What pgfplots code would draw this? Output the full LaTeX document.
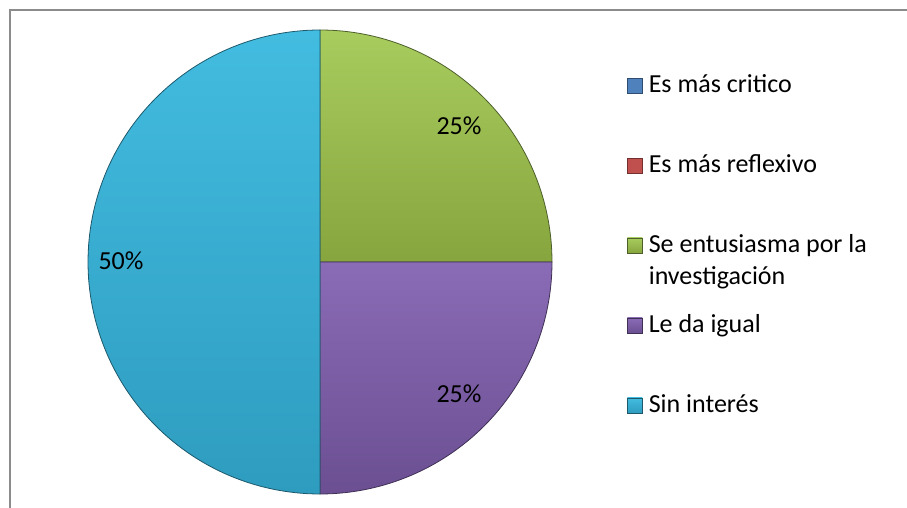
\documentclass[border=0pt]{standalone}
\usepackage{pgfplots}
\pgfplotsset{compat=1.18}
\usepackage{fontspec}
\setmainfont{Carlito}
\definecolor{cblue}{HTML}{4F81BD}
\definecolor{cred}{HTML}{C0504D}
\definecolor{cgreen}{HTML}{9BBE55}
\definecolor{cgreenT}{HTML}{A8CC5E}
\definecolor{cgreenB}{HTML}{87A53E}
\definecolor{cpurple}{HTML}{7E5FA8}
\definecolor{cpurpleT}{HTML}{8A6BB6}
\definecolor{cpurpleB}{HTML}{6B4F92}
\definecolor{ccyan}{HTML}{3AB0D6}
\definecolor{ccyanT}{HTML}{42BCE0}
\definecolor{ccyanB}{HTML}{2E9CBF}
\newcommand\f{\fontsize{26bp}{32bp}\selectfont}
% one pie slice: #1 = cumulative share before it (%), #2 = its share (%), #3 = style
\newcommand\pieslice[3]{%
  \pgfmathsetmacro\angA{90-3.6*#1}%
  \pgfmathsetmacro\angB{90-3.6*(#1+#2)}%
  \edef\doslice{\noexpand\addplot[#3, domain=\angB:\angA, samples=120]
    ({320+232*cos(x)},{246+232*sin(x)}) -- (axis cs:320,246) -- cycle;}%
  \doslice}
\begin{document}
\begin{tikzpicture}
\useasboundingbox (0,0) rectangle (907bp,508bp);
\begin{axis}[at={(0,0)}, anchor=south west,
  width=907bp, height=508bp, scale only axis,
  xmin=0, xmax=907, ymin=0, ymax=508,
  hide axis, clip=false,
  legend image code/.code={\draw[#1] (0bp,0bp) rectangle (15bp,15bp);},
  legend style={draw=none, fill=none, inner sep=0pt, outer sep=0pt,
    at={(axis cs:627,433)}, anchor=north west,
    column sep=6bp, row sep=0pt,
    cells={anchor=base west},
    nodes={inner sep=0pt, text height=18bp, text depth=62bp, font=\f}},
]
% chart frame
\addplot[forget plot, color=black!45, line width=1.3bp]
  coordinates {(10,-20) (10,498) (930,498)};
% zero-valued categories
\addlegendimage{fill=cblue, draw=cblue!60!black}
\addlegendentry{Es más critico}
\addlegendimage{fill=cred, draw=cred!60!black}
\addlegendentry{Es más reflexivo}
% slices: Es más critico 0, Es más reflexivo 0, Se entusiasma 25, Le da igual 25, Sin interés 50
\pieslice{0}{25}{draw=cgreen!50!black, line width=0.8bp, top color=cgreenT, bottom color=cgreenB}
\addlegendentry{\begin{tabular}[t]{@{}l@{}}Se entusiasma por la\\investigación\end{tabular}}
\pieslice{25}{25}{draw=cpurple!50!black, line width=0.8bp, top color=cpurpleT, bottom color=cpurpleB}
\addlegendentry{Le da igual}
\pieslice{50}{50}{draw=ccyan!50!black, line width=0.8bp, top color=ccyanT, bottom color=ccyanB}
\addlegendentry{Sin interés}
\node[anchor=base, font=\f] at (axis cs:459,373) {25\%};
\node[anchor=base, font=\f] at (axis cs:459,105) {25\%};
\node[anchor=base, font=\f] at (axis cs:121,238) {50\%};
\end{axis}
\end{tikzpicture}
\end{document}
